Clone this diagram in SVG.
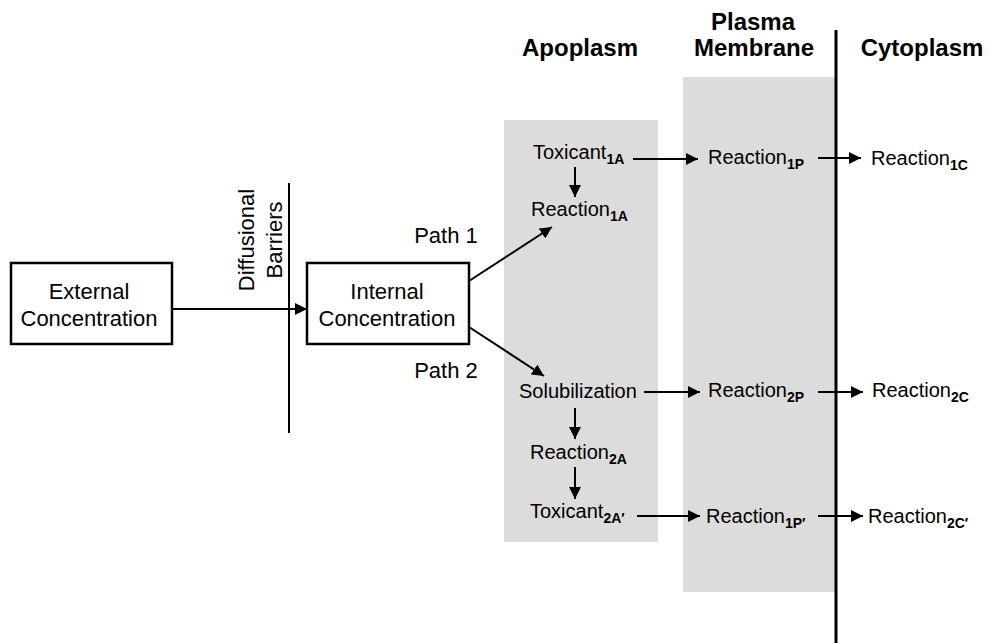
<svg xmlns="http://www.w3.org/2000/svg" width="993" height="643" viewBox="0 0 993 643">
<style>
.hdr{font-family:"Liberation Sans",Arial,sans-serif;font-weight:bold;font-size:24px;fill:#000;text-anchor:middle}
.box{fill:#fff;stroke:#000;stroke-width:2.5}
.bt{font-family:"Liberation Sans",Arial,sans-serif;font-size:22px;fill:#000;text-anchor:middle}
.lb{font-family:"Liberation Sans",Arial,sans-serif;font-size:20px;fill:#000}
.sub{font-weight:bold;font-size:14px}
.zone{fill:#dcdcdc}
.arr{stroke:#000;stroke-width:2;fill:none;marker-end:url(#ah)}
.bar{stroke:#000;fill:none}
</style>
<defs>
<marker id="ah" viewBox="0 0 10 10" refX="10" refY="5" markerWidth="12" markerHeight="12" markerUnits="userSpaceOnUse" orient="auto">
<path d="M0,0 L10,5 L0,10 z" fill="#000"/>
</marker>
</defs>

<g id="zones">
<rect id="apoplasm-zone" class="zone" x="504" y="120" width="154" height="422"/>
<rect id="membrane-zone" class="zone" x="683" y="77" width="152" height="515"/>
<line class="bar" x1="836" y1="30" x2="836" y2="643" stroke-width="3"/>
<line class="bar" x1="289" y1="183" x2="289" y2="433" stroke-width="2"/>
</g>

<g id="headers">
<text class="hdr" x="580" y="56">Apoplasm</text>
<text class="hdr" x="753" y="30">Plasma</text>
<text class="hdr" x="754" y="56">Membrane</text>
<text class="hdr" x="922" y="56">Cytoplasm</text>
</g>

<g id="barrier-label">
<text class="bt" transform="translate(254,240) rotate(-90)">Diffusional</text>
<text class="bt" transform="translate(282,240) rotate(-90)">Barriers</text>
</g>

<g id="external">
<rect class="box" x="11" y="263" width="161" height="81"/>
<text class="bt" x="89" y="299">External</text>
<text class="bt" x="89" y="326">Concentration</text>
</g>

<g id="internal">
<rect class="box" x="307" y="263" width="162" height="81"/>
<text class="bt" x="387" y="299">Internal</text>
<text class="bt" x="387" y="326">Concentration</text>
</g>

<g id="path-labels">
<text class="bt" x="446" y="243">Path 1</text>
<text class="bt" x="446" y="378">Path 2</text>
</g>

<g id="toxicant1a"><text class="lb" x="533" y="159">Toxicant<tspan class="sub" dy="5">1A</tspan></text></g>
<g id="reaction1a"><text class="lb" x="531" y="216">Reaction<tspan class="sub" dy="5">1A</tspan></text></g>
<g id="reaction1p"><text class="lb" x="708" y="164">Reaction<tspan class="sub" dy="5">1P</tspan></text></g>
<g id="reaction1c"><text class="lb" x="871" y="165">Reaction<tspan class="sub" dy="5">1C</tspan></text></g>

<g id="solubilization"><text class="lb" x="519" y="398">Solubilization</text></g>
<g id="reaction2p"><text class="lb" x="708" y="397">Reaction<tspan class="sub" dy="5">2P</tspan></text></g>
<g id="reaction2c"><text class="lb" x="872" y="397">Reaction<tspan class="sub" dy="5">2C</tspan></text></g>
<g id="reaction2a"><text class="lb" x="530" y="459">Reaction<tspan class="sub" dy="5">2A</tspan></text></g>

<g id="toxicant2a-prime"><text class="lb" x="530" y="518">Toxicant<tspan class="sub" dy="5">2A′</tspan></text></g>
<g id="reaction1p-prime"><text class="lb" x="706" y="523">Reaction<tspan class="sub" dy="5">1P′</tspan></text></g>
<g id="reaction2c-prime"><text class="lb" x="868" y="523">Reaction<tspan class="sub" dy="5">2C′</tspan></text></g>

<g id="connectors">
<line class="arr" x1="172" y1="309" x2="307" y2="309"/>
<line class="arr" x1="469" y1="281" x2="552" y2="227"/>
<line class="arr" x1="469" y1="327" x2="544" y2="376"/>
<line class="arr" x1="633" y1="159" x2="698" y2="159"/>
<line class="arr" x1="818" y1="158" x2="861" y2="158"/>
<line class="arr" x1="575" y1="167" x2="575" y2="197"/>
<line class="arr" x1="644" y1="392" x2="700" y2="392"/>
<line class="arr" x1="818" y1="392" x2="863" y2="392"/>
<line class="arr" x1="575" y1="408" x2="575" y2="439"/>
<line class="arr" x1="575" y1="467" x2="575" y2="499"/>
<line class="arr" x1="637" y1="516" x2="700" y2="516"/>
<line class="arr" x1="818" y1="516" x2="863" y2="516"/>
</g>
</svg>
